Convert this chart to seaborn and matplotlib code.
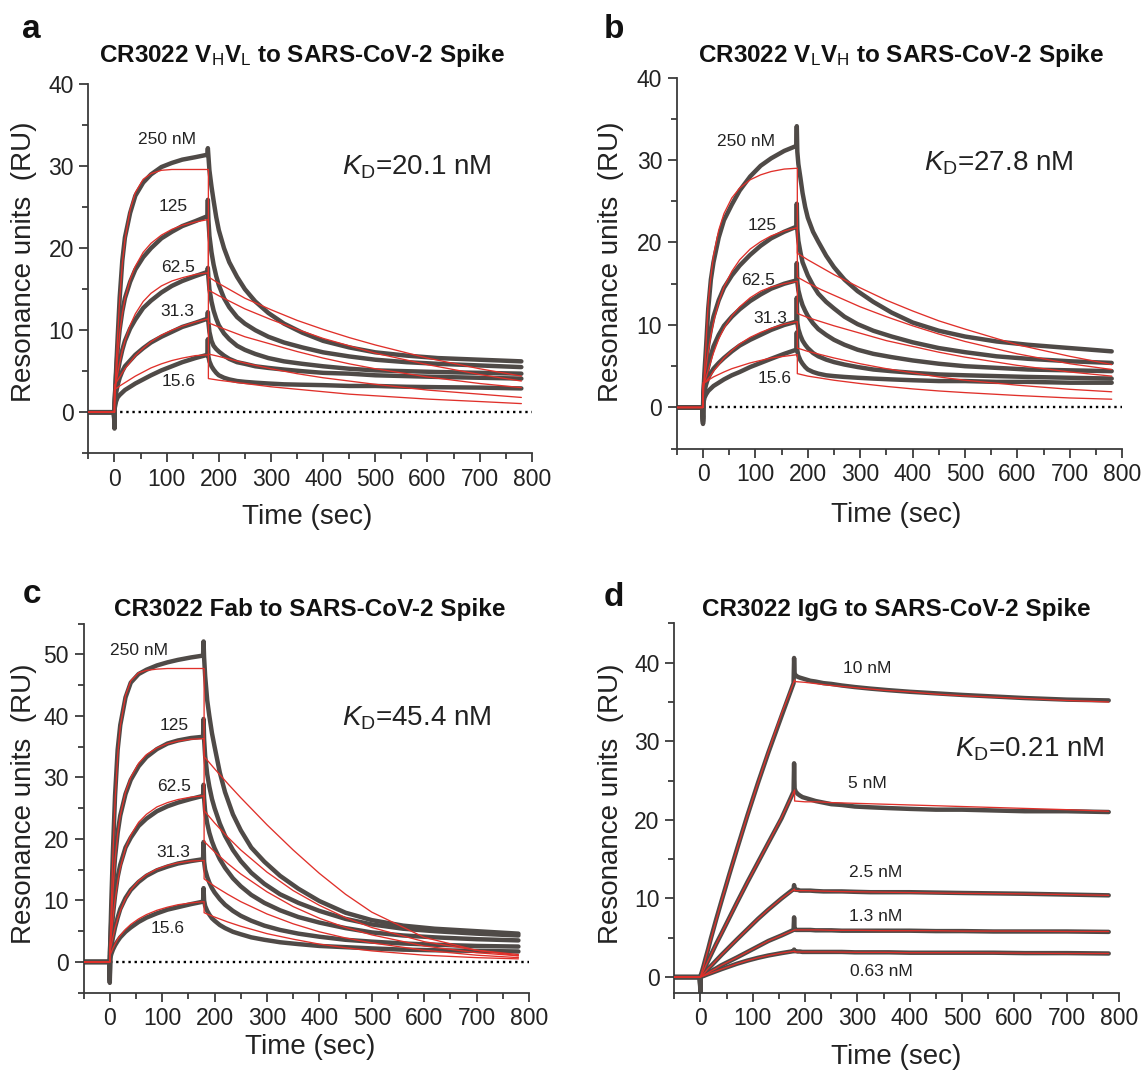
import matplotlib
matplotlib.use("Agg")
import matplotlib.pyplot as plt
from matplotlib.ticker import MultipleLocator
import pandas as pd
import seaborn as sns

sns.set_style("ticks")
plt.rcParams["font.family"] = ["Liberation Sans", "DejaVu Sans"]
plt.rcParams["mathtext.fontset"] = "custom"
plt.rcParams["mathtext.rm"] = "Liberation Sans"
plt.rcParams["mathtext.it"] = "Liberation Sans:italic"
plt.rcParams["mathtext.bf"] = "Liberation Sans:bold"

# ---------------- time grids (sec) ----------------
T_ASSOC = [0.5, 3, 6, 10, 15, 20, 30, 40, 55, 70, 90, 110, 130, 155, 178]
T_DISSOC = [180, 182, 186, 190, 195, 200, 210, 220, 235, 250, 270, 295, 325,
            360, 400, 450, 500, 560, 620, 700, 780]
T_FIT_ASSOC = [0, 3, 6, 10, 15, 20, 30, 40, 55, 70, 90, 110, 130, 155, 180]
T_FIT_DISSOC = [180, 200, 225, 250, 300, 350, 400, 450, 500, 600, 700, 780]

# ---------------- panel a : VHVL ----------------
A_CONC = ["250 nM", "125", "62.5", "31.3", "15.6"]
A_ASSOC = [
    [1.5, 5.0, 9.0, 14.0, 18.5, 21.3, 24.3, 26.4, 28.0, 29.0, 29.9, 30.4, 30.8, 31.1, 31.4],
    [1.5, 4.5, 7.6, 10.1, 12.3, 13.9, 15.9, 17.4, 18.9, 20.0, 21.2, 22.0, 22.7, 23.3, 23.9],
    [1.2, 3.3, 4.8, 6.2, 7.6, 8.7, 10.2, 11.3, 12.7, 13.6, 14.6, 15.4, 16.0, 16.6, 17.1],
    [1.0, 2.3, 3.3, 4.2, 5.0, 5.6, 6.3, 7.0, 7.8, 8.5, 9.2, 9.8, 10.4, 10.9, 11.4],
    [0.5, 1.3, 1.8, 2.1, 2.4, 2.7, 3.1, 3.5, 4.0, 4.5, 5.1, 5.6, 6.1, 6.6, 7.0],
]
A_SPIKE = [32.2, 25.9, 17.6, 12.2, 8.9]
A_DIP = [-2.0, -1.8, -1.6, -1.4, -1.2]
A_DISSOC = [
    [31.3, 29.5, 27.5, 25.8, 23.8, 22.2, 20.0, 18.3, 16.5, 15.0, 13.5, 12.1, 10.8, 9.7, 8.7, 7.9, 7.3, 6.9, 6.6, 6.4, 6.2],
    [23.5, 21.5, 19.5, 18.0, 16.6, 15.5, 13.9, 12.8, 11.6, 10.8, 10.0, 9.2, 8.5, 7.9, 7.3, 6.8, 6.4, 6.1, 5.9, 5.7, 5.5],
    [16.5, 15.0, 13.5, 12.4, 11.4, 10.6, 9.6, 8.9, 8.1, 7.6, 7.1, 6.6, 6.2, 5.9, 5.6, 5.3, 5.1, 5.0, 4.9, 4.8, 4.7],
    [11.0, 9.8, 8.7, 8.1, 7.7, 7.4, 6.9, 6.5, 6.1, 5.9, 5.6, 5.4, 5.2, 5.0, 4.8, 4.7, 4.5, 4.4, 4.3, 4.2, 4.1],
    [6.8, 6.2, 5.6, 5.2, 4.8, 4.5, 4.2, 4.0, 3.8, 3.7, 3.6, 3.5, 3.4, 3.35, 3.3, 3.2, 3.2, 3.1, 3.05, 3.0, 2.9],
]
A_FIT_ASSOC = [
    [0.5, 5.5, 9.3, 13.8, 18.1, 21.0, 24.7, 26.8, 28.4, 29.1, 29.5, 29.6, 29.6, 29.6, 29.6],
    [1.0, 4.0, 6.8, 9.6, 12.0, 13.8, 16.2, 17.8, 19.5, 20.6, 21.6, 22.3, 22.8, 23.2, 23.5],
    [2.5, 3.6, 4.7, 6.0, 7.5, 8.7, 10.6, 12.0, 13.5, 14.5, 15.4, 16.0, 16.4, 16.8, 17.0],
    [3.3, 3.6, 3.9, 4.3, 4.8, 5.3, 6.1, 6.9, 7.8, 8.6, 9.4, 10.0, 10.5, 11.0, 11.4],
    [2.8, 2.9, 3.0, 3.2, 3.4, 3.6, 4.0, 4.4, 4.9, 5.4, 5.9, 6.3, 6.6, 6.9, 7.0],
]
A_FIT_DISSOC = [
    [16.5, 15.7, 14.8, 13.9, 12.5, 11.2, 10.1, 9.1, 8.2, 6.6, 5.3, 4.4],
    [14.9, 14.2, 13.4, 12.6, 11.3, 10.1, 9.0, 8.1, 7.2, 5.8, 4.6, 3.8],
    [10.9, 10.4, 9.8, 9.2, 8.3, 7.4, 6.6, 5.9, 5.3, 4.3, 3.5, 3.0],
    [7.1, 6.8, 6.4, 6.0, 5.3, 4.7, 4.2, 3.8, 3.4, 2.7, 2.2, 1.8],
    [4.1, 3.9, 3.7, 3.5, 3.1, 2.8, 2.5, 2.2, 2.0, 1.6, 1.3, 1.05],
]

# ---------------- panel b : VLVH ----------------
B_CONC = ["250 nM", "125", "62.5", "31.3", "15.6"]
B_ASSOC = [
    [1.5, 4.5, 7.5, 12.0, 15.5, 17.6, 20.6, 22.7, 24.6, 26.3, 28.0, 29.3, 30.2, 31.1, 31.7],
    [1.5, 3.5, 5.5, 7.7, 9.5, 11.0, 13.0, 14.5, 16.0, 17.2, 18.5, 19.6, 20.5, 21.3, 21.9],
    [1.2, 2.6, 3.8, 5.0, 6.3, 7.4, 8.8, 9.9, 11.0, 11.9, 12.9, 13.7, 14.4, 15.0, 15.4],
    [0.8, 2.0, 2.8, 3.6, 4.2, 4.7, 5.4, 6.0, 6.8, 7.5, 8.2, 8.8, 9.4, 10.0, 10.4],
    [0.5, 1.2, 1.6, 2.0, 2.3, 2.6, 3.0, 3.4, 3.9, 4.3, 4.9, 5.4, 5.9, 6.5, 7.0],
]
B_SPIKE = [34.1, 24.7, 17.5, 13.3, 9.1]
B_DIP = [-2.0, -1.8, -1.6, -1.4, -1.2]
B_DISSOC = [
    [31.0, 29.5, 27.8, 26.0, 24.3, 23.0, 21.3, 20.1, 18.4, 17.0, 15.5, 14.1, 12.8, 11.5, 10.3, 9.3, 8.6, 8.0, 7.6, 7.2, 6.8],
    [21.6, 20.2, 18.8, 17.6, 16.8, 16.0, 14.8, 13.8, 12.8, 12.0, 11.0, 10.1, 9.3, 8.6, 7.9, 7.2, 6.7, 6.2, 5.9, 5.6, 5.4],
    [15.2, 14.2, 13.2, 12.4, 11.7, 11.1, 10.2, 9.5, 8.8, 8.2, 7.6, 7.0, 6.5, 6.1, 5.7, 5.3, 5.0, 4.8, 4.6, 4.5, 4.4],
    [10.3, 9.5, 8.7, 8.1, 7.6, 7.2, 6.6, 6.2, 5.8, 5.5, 5.2, 4.9, 4.6, 4.4, 4.2, 4.0, 3.9, 3.8, 3.7, 3.6, 3.5],
    [6.9, 6.3, 5.7, 5.3, 4.9, 4.6, 4.3, 4.1, 3.9, 3.8, 3.7, 3.6, 3.5, 3.4, 3.3, 3.2, 3.2, 3.1, 3.1, 3.0, 3.0],
]
B_FIT_ASSOC = [
    [0.5, 4.5, 8.0, 12.8, 15.8, 18.4, 21.5, 23.5, 25.4, 26.6, 27.6, 28.2, 28.6, 28.9, 29.0],
    [2.0, 3.6, 5.0, 6.8, 8.7, 10.3, 12.8, 14.6, 16.5, 17.9, 19.2, 20.1, 20.8, 21.4, 21.8],
    [2.5, 3.1, 3.7, 4.5, 5.6, 6.6, 8.3, 9.6, 11.1, 12.2, 13.3, 14.1, 14.6, 15.0, 15.3],
    [2.8, 3.0, 3.2, 3.5, 3.9, 4.4, 5.2, 6.0, 6.9, 7.7, 8.5, 9.1, 9.6, 10.1, 10.4],
    [3.0, 3.05, 3.1, 3.3, 3.5, 3.7, 4.0, 4.3, 4.7, 5.0, 5.4, 5.7, 6.0, 6.2, 6.4],
]
B_FIT_DISSOC = [
    [18.7, 17.9, 17.0, 16.1, 14.5, 13.0, 11.7, 10.5, 9.5, 7.6, 6.2, 5.2],
    [15.8, 15.1, 14.3, 13.6, 12.2, 11.0, 9.9, 8.9, 8.0, 6.5, 5.3, 4.6],
    [11.4, 10.9, 10.4, 9.9, 9.0, 8.1, 7.4, 6.7, 6.1, 5.1, 4.3, 3.8],
    [7.2, 6.8, 6.4, 6.0, 5.3, 4.7, 4.2, 3.7, 3.3, 2.7, 2.2, 1.9],
    [4.1, 3.8, 3.55, 3.3, 2.9, 2.55, 2.25, 2.0, 1.8, 1.45, 1.15, 1.0],
]

# ---------------- panel c : Fab ----------------
C_CONC = ["250 nM", "125", "62.5", "31.3", "15.6"]
C_ASSOC = [
    [2.0, 10.0, 18.0, 27.0, 34.5, 38.5, 43.0, 45.4, 46.8, 47.5, 48.2, 48.7, 49.1, 49.5, 49.8],
    [2.0, 7.0, 12.0, 17.0, 21.0, 23.8, 27.3, 29.6, 31.8, 33.3, 34.6, 35.5, 36.0, 36.4, 36.6],
    [1.5, 4.5, 7.6, 10.8, 13.8, 15.8, 18.6, 20.2, 22.1, 23.3, 24.5, 25.3, 25.9, 26.5, 27.0],
    [1.0, 2.5, 4.0, 5.6, 7.2, 8.6, 10.4, 11.7, 13.0, 14.0, 14.9, 15.5, 16.0, 16.4, 16.7],
    [0.5, 1.3, 2.0, 2.7, 3.4, 4.0, 4.9, 5.6, 6.5, 7.2, 7.9, 8.5, 8.9, 9.4, 9.8],
]
C_SPIKE = [52.1, 39.5, 28.8, 19.5, 12.0]
C_DIP = [-3.4, -3.0, -2.6, -2.2, -1.8]
C_DISSOC = [
    [49.5, 46.5, 42.5, 40.0, 37.2, 35.0, 30.8, 27.6, 24.0, 21.4, 18.6, 16.3, 14.0, 11.9, 9.9, 8.0, 6.8, 5.9, 5.4, 5.0, 4.6],
    [36.2, 33.5, 30.5, 28.5, 26.5, 25.0, 22.5, 20.5, 18.2, 16.4, 14.5, 12.7, 11.0, 9.6, 8.3, 7.0, 6.1, 5.4, 5.0, 4.6, 4.3],
    [26.6, 24.5, 22.5, 21.0, 19.6, 18.5, 16.7, 15.3, 13.6, 12.3, 10.9, 9.6, 8.4, 7.3, 6.4, 5.5, 4.8, 4.3, 4.0, 3.7, 3.5],
    [16.3, 15.0, 13.8, 12.9, 12.0, 11.3, 10.2, 9.3, 8.3, 7.5, 6.7, 5.9, 5.2, 4.6, 4.1, 3.6, 3.3, 3.0, 2.8, 2.6, 2.5],
    [10.0, 9.1, 8.3, 7.7, 7.1, 6.7, 6.0, 5.5, 4.9, 4.5, 4.0, 3.6, 3.2, 2.9, 2.6, 2.4, 2.2, 2.0, 1.9, 1.8, 1.7],
]
C_FIT_ASSOC = [
    [1.0, 9.5, 17.5, 26.0, 33.5, 38.3, 43.3, 45.7, 47.0, 47.4, 47.6, 47.7, 47.7, 47.7, 47.7],
    [1.5, 6.5, 11.5, 16.5, 20.8, 23.8, 27.6, 30.0, 32.3, 33.7, 34.8, 35.5, 35.9, 36.2, 36.3],
    [2.0, 4.5, 7.0, 10.0, 13.0, 15.3, 18.5, 20.6, 22.7, 24.0, 25.2, 25.9, 26.4, 26.8, 27.0],
    [1.5, 2.8, 4.0, 5.5, 7.0, 8.3, 10.3, 11.7, 13.2, 14.2, 15.1, 15.7, 16.1, 16.4, 16.5],
    [1.0, 1.6, 2.2, 2.9, 3.7, 4.3, 5.3, 6.1, 7.0, 7.7, 8.4, 8.9, 9.3, 9.6, 9.8],
]
C_FIT_DISSOC = [
    [33.4, 31.4, 29.0, 26.7, 22.3, 18.2, 14.4, 11.0, 8.1, 4.0, 1.9, 1.0],
    [24.6, 22.6, 20.3, 18.2, 14.6, 11.6, 9.2, 7.2, 5.6, 3.3, 1.9, 1.2],
    [19.6, 17.9, 16.0, 14.3, 11.4, 9.0, 7.1, 5.6, 4.4, 2.6, 1.5, 1.0],
    [13.5, 12.3, 11.0, 9.8, 7.8, 6.2, 4.9, 3.9, 3.1, 1.9, 1.1, 0.7],
    [8.0, 7.3, 6.5, 5.8, 4.6, 3.7, 2.9, 2.3, 1.8, 1.1, 0.7, 0.5],
]

# ---------------- panel d : IgG ----------------
D_CONC = ["10 nM", "5 nM", "2.5 nM", "1.3 nM", "0.63 nM"]
D_ASSOC = [
    [0.2, 0.7, 1.4, 2.4, 3.6, 4.9, 7.3, 9.6, 13.0, 16.3, 20.6, 24.7, 28.6, 33.2, 37.4],
    [0.1, 0.4, 0.8, 1.4, 2.1, 2.8, 4.2, 5.5, 7.5, 9.5, 12.1, 14.6, 17.1, 20.2, 23.6],
    [0.05, 0.2, 0.4, 0.7, 1.1, 1.4, 2.1, 2.8, 3.8, 4.8, 6.1, 7.4, 8.6, 10.0, 11.2],
    [0.0, 0.1, 0.2, 0.35, 0.55, 0.75, 1.1, 1.5, 2.0, 2.5, 3.2, 3.9, 4.6, 5.3, 6.0],
    [0.0, 0.08, 0.15, 0.25, 0.38, 0.5, 0.75, 1.0, 1.35, 1.7, 2.1, 2.45, 2.75, 3.05, 3.3],
]
D_SPIKE = [40.6, 27.2, 11.7, 7.6, 3.5]
D_DIP = [-2.0, -1.8, -1.6, -1.4, -1.2]
D_DISSOC = [
    [38.6, 38.4, 38.2, 38.1, 38.0, 37.9, 37.7, 37.6, 37.4, 37.3, 37.1, 36.9, 36.7, 36.5, 36.3, 36.1, 35.9, 35.7, 35.5, 35.3, 35.2],
    [24.0, 23.6, 23.3, 23.1, 22.9, 22.8, 22.6, 22.4, 22.2, 22.0, 21.9, 21.7, 21.6, 21.5, 21.4, 21.3, 21.3, 21.2, 21.1, 21.1, 21.0],
    [11.2, 11.1, 11.1, 11.0, 11.0, 11.0, 11.0, 10.95, 10.9, 10.9, 10.9, 10.85, 10.8, 10.8, 10.8, 10.75, 10.7, 10.65, 10.6, 10.5, 10.4],
    [6.1, 6.0, 6.0, 6.0, 6.0, 6.0, 6.0, 5.95, 5.95, 5.95, 5.9, 5.9, 5.9, 5.9, 5.9, 5.85, 5.85, 5.8, 5.8, 5.8, 5.75],
    [3.3, 3.3, 3.25, 3.25, 3.2, 3.2, 3.2, 3.2, 3.2, 3.2, 3.2, 3.15, 3.15, 3.15, 3.1, 3.1, 3.1, 3.1, 3.05, 3.05, 3.0],
]
D_FIT_ASSOC = [
    [0.0, 0.7, 1.4, 2.4, 3.6, 4.8, 7.2, 9.6, 13.0, 16.3, 20.6, 24.7, 28.7, 33.5, 37.8],
    [0.0, 0.4, 0.8, 1.4, 2.1, 2.8, 4.2, 5.5, 7.5, 9.5, 12.1, 14.6, 17.1, 20.3, 23.8],
    [0.0, 0.2, 0.4, 0.7, 1.1, 1.4, 2.1, 2.8, 3.8, 4.8, 6.1, 7.4, 8.6, 10.0, 11.2],
    [0.0, 0.1, 0.2, 0.35, 0.55, 0.75, 1.1, 1.5, 2.0, 2.5, 3.2, 3.9, 4.6, 5.3, 6.0],
    [0.0, 0.08, 0.15, 0.25, 0.38, 0.5, 0.75, 1.0, 1.35, 1.7, 2.1, 2.45, 2.75, 3.05, 3.3],
]
D_FIT_DISSOC = [
    [37.6, 37.5, 37.3, 37.1, 36.8, 36.5, 36.3, 36.0, 35.8, 35.5, 35.2, 35.0],
    [22.4, 22.3, 22.3, 22.2, 22.1, 22.0, 21.9, 21.8, 21.7, 21.5, 21.3, 21.1],
    [11.0, 11.0, 10.95, 10.9, 10.85, 10.8, 10.75, 10.7, 10.65, 10.6, 10.5, 10.4],
    [6.0, 6.0, 6.0, 5.95, 5.95, 5.9, 5.9, 5.9, 5.85, 5.85, 5.8, 5.8],
    [3.2, 3.2, 3.2, 3.2, 3.15, 3.15, 3.1, 3.1, 3.1, 3.05, 3.0, 3.0],
]

TITLES = [r"CR3022 V$_{\mathrm{H}}$V$_{\mathrm{L}}$ to SARS-CoV-2 Spike",
          r"CR3022 V$_{\mathrm{L}}$V$_{\mathrm{H}}$ to SARS-CoV-2 Spike",
          "CR3022 Fab to SARS-CoV-2 Spike",
          "CR3022 IgG to SARS-CoV-2 Spike"]
KD_TEXT = [r"$K_{\mathrm{D}}$=20.1 nM", r"$K_{\mathrm{D}}$=27.8 nM",
           r"$K_{\mathrm{D}}$=45.4 nM", r"$K_{\mathrm{D}}$=0.21 nM"]
LETTERS = ["a", "b", "c", "d"]

GRAY = "#4f4a47"
RED = "#e0302a"
W, H = 1145, 1070


def fx(x):
    return x / W


def fy(y):
    return 1 - y / H


def obs_frame(conc, assoc, spike, dip, dissoc):
    rows = []
    for c, a, s, d0, d in zip(conc, assoc, spike, dip, dissoc):
        ts = [-50, -1, 0] + T_ASSOC + [179] + T_DISSOC
        vs = [0, 0, d0] + a + [s] + d
        rows += [{"t": t, "v": v, "conc": c} for t, v in zip(ts, vs)]
    return pd.DataFrame(rows)


def fit_frame(conc, fa, fd):
    rows = []
    for c, a, d in zip(conc, fa, fd):
        ts = [-50, 0] + T_FIT_ASSOC + T_FIT_DISSOC
        vs = [0, 0] + a + d
        rows += [{"t": t, "v": v, "conc": c} for t, v in zip(ts, vs)]
    return pd.DataFrame(rows)


panels = [
    dict(rect=(88.4, 531.8, 84.2, 453.2), ylim=(-5, 40), yticks=[0, 10, 20, 30, 40],
         conc=A_CONC, assoc=A_ASSOC, spike=A_SPIKE, dip=A_DIP, dissoc=A_DISSOC,
         fa=A_FIT_ASSOC, fd=A_FIT_DISSOC, zero=True,
         lab=[(101, 33.3), (113, 25.1), (121, 17.7), (121, 12.3), (123, 3.7)],
         kd=(436, 29.0), title=(302, 62), letter=(22, 38),
         ylab=(24, 262), xlab=(307, 517)),
    dict(rect=(676.8, 1122.2, 77.5, 448.7), ylim=(-5, 40), yticks=[0, 10, 20, 30, 40],
         conc=B_CONC, assoc=B_ASSOC, spike=B_SPIKE, dip=B_DIP, dissoc=B_DISSOC,
         fa=B_FIT_ASSOC, fd=B_FIT_DISSOC, zero=True,
         lab=[(82, 32.3), (113, 22.0), (106, 15.4), (129, 10.8), (137, 3.5)],
         kd=(422, 28.7), title=(901, 62), letter=(604, 38),
         ylab=(611, 262), xlab=(896, 515)),
    dict(rect=(83.6, 528.9, 623.6, 992.7), ylim=(-5, 55), yticks=[0, 10, 20, 30, 40, 50],
         conc=C_CONC, assoc=C_ASSOC, spike=C_SPIKE, dip=C_DIP, dissoc=C_DISSOC,
         fa=C_FIT_ASSOC, fd=C_FIT_DISSOC, zero=True,
         lab=[(56, 50.7), (122, 38.4), (123, 28.5), (121, 17.8), (111, 5.4)],
         kd=(443, 38.4), title=(310, 616), letter=(23, 603),
         ylab=(24, 804), xlab=(310, 1047)),
    dict(rect=(674.2, 1119.2, 623.4, 992.8), ylim=(-2, 45), yticks=[0, 10, 20, 30, 40],
         conc=D_CONC, assoc=D_ASSOC, spike=D_SPIKE, dip=D_DIP, dissoc=D_DISSOC,
         fa=D_FIT_ASSOC, fd=D_FIT_DISSOC, zero=False,
         lab=[(318, 39.3), (319, 24.6), (335, 13.3), (335, 7.65), (346, 0.65)],
         kd=(486, 28.1), title=(896, 616), letter=(604, 606),
         ylab=(611, 804), xlab=(896, 1057)),
]

fig = plt.figure(figsize=(W / 100, H / 100), dpi=100)
AX_COL = "#3b3b3b"

for i, p in enumerate(panels):
    x0, x1, ytop, ybot = p["rect"]
    ax = fig.add_axes([fx(x0), fy(ybot), (x1 - x0) / W, (ybot - ytop) / H])
    ax.set_facecolor("none")

    if p["zero"]:
        ax.hlines(0, 0, 800, colors="black", linestyles=(0, (1, 1.6)), lw=1.7, zorder=1)

    dobs = obs_frame(p["conc"], p["assoc"], p["spike"], p["dip"], p["dissoc"])
    dfit = fit_frame(p["conc"], p["fa"], p["fd"])
    sns.lineplot(data=dobs, x="t", y="v", units="conc", estimator=None, sort=False,
                 color=GRAY, lw=3.2, ax=ax, legend=False, zorder=2)
    sns.lineplot(data=dfit, x="t", y="v", units="conc", estimator=None, sort=False,
                 color=RED, lw=0.95, ax=ax, legend=False, zorder=3)

    ax.set_xlim(-50, 800)
    ax.set_ylim(*p["ylim"])
    ax.set_xticks(range(0, 801, 100))
    ax.xaxis.set_minor_locator(MultipleLocator(50))
    ax.set_yticks(p["yticks"])
    ax.yaxis.set_minor_locator(MultipleLocator(5))
    ax.set_xlabel("")
    ax.set_ylabel("")
    sns.despine(ax=ax)
    for s in ("left", "bottom"):
        ax.spines[s].set_color(AX_COL)
        ax.spines[s].set_linewidth(1.3)
    ax.tick_params(which="major", length=6.5, width=1.3, color=AX_COL,
                   labelsize=16.5, pad=4, labelcolor="#222222")
    ax.tick_params(which="minor", length=4, width=1.3, color=AX_COL)

    for (t, v), lbl in zip(p["lab"], p["conc"]):
        ax.text(t, v, lbl, ha="center", va="center", fontsize=12.5, color="#222222")
    ax.text(p["kd"][0], p["kd"][1], KD_TEXT[i], ha="left", va="baseline",
            fontsize=20, color="#222222")

    fig.text(fx(p["title"][0]), fy(p["title"][1]), TITLES[i], ha="center",
             va="baseline", fontsize=17.5, fontweight="bold", color="#111111")
    fig.text(fx(p["letter"][0]), fy(p["letter"][1]), LETTERS[i], ha="left",
             va="baseline", fontsize=24, fontweight="bold", color="#111111")
    fig.text(fx(p["ylab"][0]), fy(p["ylab"][1]), "Resonance units  (RU)",
             rotation=90, ha="center", va="center", fontsize=20, color="#222222")
    fig.text(fx(p["xlab"][0]), fy(p["xlab"][1]), "Time (sec)", ha="center",
             va="center", fontsize=20, color="#222222")

fig.savefig("out.png", dpi=100)
